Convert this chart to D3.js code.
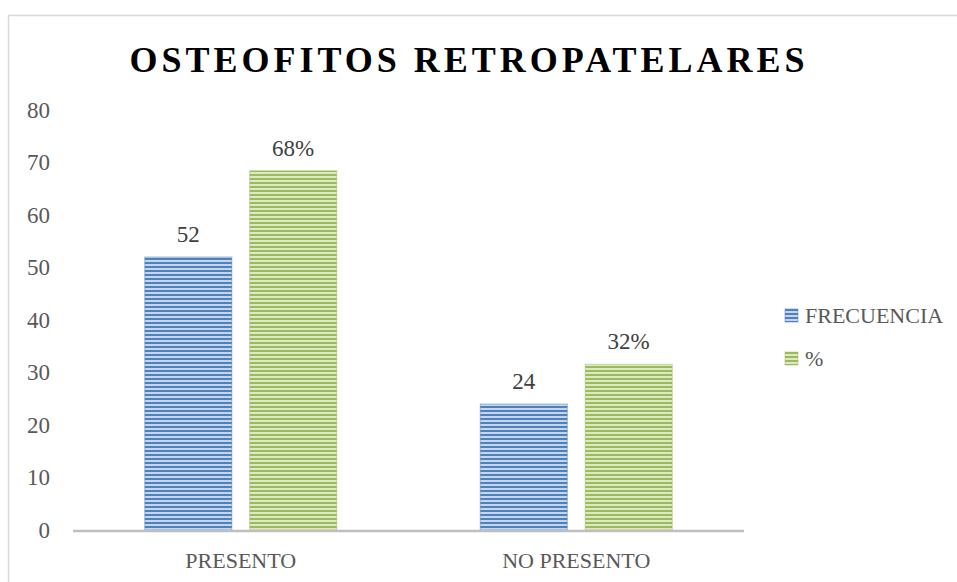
<!DOCTYPE html>
<html>
<head>
<meta charset="utf-8">
<script src="https://cdn.jsdelivr.net/npm/d3@7"></script>
<style>
  body { margin: 0; background: #fff; }
  #chart { width: 957px; height: 582px; }
</style>
</head>
<body>
<div id="chart"></div>
<script>

// chart data
var categories = ["PRESENTO", "NO PRESENTO"];
var seriesNames = ["FRECUENCIA", "%"];
var frecuencia = [52, 24];
var porcentaje = [68.42, 31.58];
var porcentajeLabels = ["68%", "32%"];
var yTicks = [0, 10, 20, 30, 40, 50, 60, 70, 80];

var colors = [
    { dark: "#4f81bd", light: "#c5d6ec", id: "stripeBlue" },
    { dark: "#9bbb59", light: "#dde9c6", id: "stripeGreen" }
];

var font = "'Liberation Serif', 'DejaVu Serif', serif";
var margin = { left: 73, right: 213, top: 110, bottom: 52 };

var W = 957, H = 582;
var width = W - margin.left - margin.right;
var height = H - margin.top - margin.bottom;

var root = d3.select("#chart")
    .append("svg")
    .attr("width", W)
    .attr("height", H);

// striped fills
var defs = root.append("defs");
colors.forEach(function (c) {
    var p = defs.append("pattern")
        .attr("id", c.id)
        .attr("patternUnits", "userSpaceOnUse")
        .attr("width", 8)
        .attr("height", 4);
    p.append("rect").attr("width", 8).attr("height", 4).attr("fill", c.light);
    p.append("rect").attr("width", 8).attr("height", 2).attr("fill", c.dark);
});

// outer border
root.append("rect")
    .attr("x", 8.5).attr("y", 15.5)
    .attr("width", W + 20).attr("height", H + 20)
    .attr("fill", "none")
    .attr("stroke", "#d9d9d9")
    .attr("stroke-width", 1.5);

// title
root.append("text")
    .attr("x", 469)
    .attr("y", 72)
    .attr("text-anchor", "middle")
    .style("font-family", font)
    .style("font-weight", "bold")
    .style("font-size", "36px")
    .style("letter-spacing", "4px")
    .style("fill", "#000")
    .text("OSTEOFITOS RETROPATELARES");

var svg = root.append("g")
    .attr("transform", "translate(" + margin.left + "," + margin.top + ")");

var x0 = d3.scaleBand()
    .domain(categories)
    .range([0, width]);

var x1 = d3.scaleBand()
    .domain(seriesNames)
    .range([0, 192])
    .paddingInner(0.17);

var y = d3.scaleLinear()
    .domain([0, 80])
    .range([height, 0]);

// y axis labels
var yaxis = svg.append("g")
    .call(d3.axisLeft(y).tickValues(yTicks).tickSize(0).tickPadding(23));
yaxis.select(".domain").remove();
yaxis.selectAll("text")
    .style("font-family", font)
    .style("font-size", "23px")
    .style("fill", "#595959");

// bars
var data = categories.map(function (c, i) {
    return [
        { cat: c, s: 0, v: frecuencia[i], label: String(frecuencia[i]) },
        { cat: c, s: 1, v: porcentaje[i], label: porcentajeLabels[i] }
    ];
});

var groups = svg.selectAll(".grp")
    .data(data)
    .enter()
    .append("g")
    .attr("transform", function (d) {
        return "translate(" + (x0(d[0].cat) + x0.bandwidth() / 2 - 96) + ",0)";
    });

groups.selectAll("rect")
    .data(function (d) { return d; })
    .enter()
    .append("rect")
    .attr("x", function (d) { return x1(seriesNames[d.s]); })
    .attr("y", function (d) { return y(d.v); })
    .attr("width", x1.bandwidth())
    .attr("height", function (d) { return y(0) - y(d.v); })
    .attr("fill", function (d) { return "url(#" + colors[d.s].id + ")"; })
    .attr("stroke", function (d) { return colors[d.s].dark; })
    .attr("stroke-opacity", 0.5)
    .attr("stroke-width", 1);

groups.selectAll(".lbl")
    .data(function (d) { return d; })
    .enter()
    .append("text")
    .attr("x", function (d) { return x1(seriesNames[d.s]) + x1.bandwidth() / 2; })
    .attr("y", function (d) { return y(d.v) - 15; })
    .attr("text-anchor", "middle")
    .style("font-family", font)
    .style("font-size", "23px")
    .style("fill", "#404040")
    .text(function (d) { return d.label; });

// x axis
svg.append("line")
    .attr("x1", 0).attr("x2", width)
    .attr("y1", y(0) + 1).attr("y2", y(0) + 1)
    .attr("stroke", "#bfbfbf")
    .attr("stroke-width", 2.5);

svg.append("g")
    .selectAll("text")
    .data(categories)
    .enter()
    .append("text")
    .attr("x", function (d) { return x0(d) + x0.bandwidth() / 2; })
    .attr("y", height + 38)
    .attr("text-anchor", "middle")
    .style("font-family", font)
    .style("font-size", "22px")
    .style("fill", "#595959")
    .text(function (d) { return d; });

// legend
var legend = root.selectAll(".legend")
    .data(seriesNames)
    .enter()
    .append("g")
    .attr("class", "legend")
    .attr("transform", function (d, i) {
        return "translate(785," + (309 + i * 43) + ")";
    });

legend.append("rect")
    .attr("width", 13)
    .attr("height", 13)
    .attr("fill", function (d, i) { return "url(#" + colors[i].id + ")"; })
    .attr("stroke", function (d, i) { return colors[i].dark; })
    .attr("stroke-opacity", 0.5);

legend.append("text")
    .attr("x", 20)
    .attr("y", 14)
    .style("font-family", font)
    .style("font-size", "22px")
    .style("fill", "#595959")
    .text(function (d) { return d; });
</script>
</body>
</html>
